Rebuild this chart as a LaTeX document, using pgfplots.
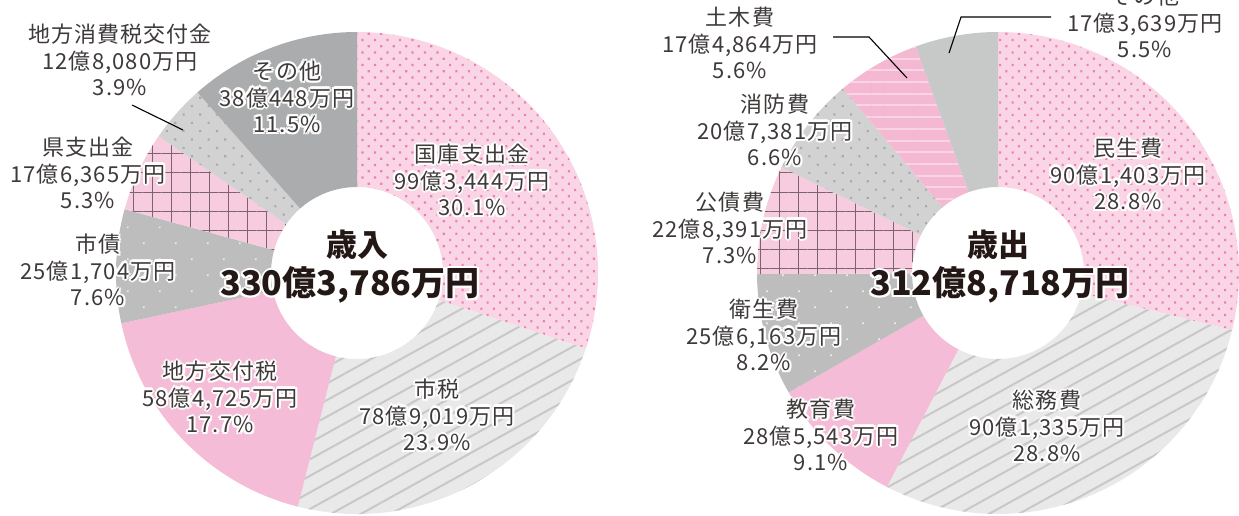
\documentclass[border=0pt]{standalone}
\usepackage{pgfplots}
\pgfplotsset{compat=1.18}
\usepackage{pgfplotstable}
\usetikzlibrary{patterns.meta}
\usepackage{fontspec}
\setmainfont{Noto Sans CJK JP}
\newfontfamily\lblfont[LetterSpace=5]{Noto Sans CJK JP}

\definecolor{pinkbg}{HTML}{F9D5E5}
\definecolor{pinkdot}{HTML}{EE7FB1}
\definecolor{linebg}{HTML}{E9E9E9}
\definecolor{linefg}{HTML}{C8C8C8}
\definecolor{solidpink}{HTML}{F4BCD6}
\definecolor{wdotbg}{HTML}{BDBDBD}
\definecolor{wdot}{HTML}{EBEBEB}
\definecolor{gridbg}{HTML}{F7CCDF}
\definecolor{gridfg}{HTML}{7B6470}
\definecolor{gdotbg}{HTML}{D2D2D2}
\definecolor{gdot}{HTML}{AAAAAA}
\definecolor{darkgray}{HTML}{ABACAE}
\definecolor{stripebg}{HTML}{F4B8D2}
\definecolor{stripefg}{HTML}{F9D5E4}
\definecolor{rightgray}{HTML}{C7C8C8}
\definecolor{txt}{HTML}{3E3A39}
\definecolor{ctxt}{HTML}{231815}

\tikzset{
 sA/.style={fill=pinkbg, postaction={pattern={Dots[radius=1.5pt,distance=8.84pt,angle=45]}, pattern color=pinkdot}},
 sB/.style={fill=linebg, postaction={pattern={Lines[angle=29,distance=14.5pt,line width=2pt]}, pattern color=linefg}},
 sC/.style={fill=solidpink},
 sD/.style={fill=wdotbg, postaction={pattern={Dots[radius=1.2pt,distance=22.6pt,angle=45]}, pattern color=wdot}},
 sE/.style={fill=gridbg, postaction={pattern={Hatch[angle=0,distance=19pt,line width=1pt]}, pattern color=gridfg}},
 sF/.style={fill=gdotbg, postaction={pattern={Dots[radius=1.5pt,distance=11.8pt,angle=45]}, pattern color=gdot}},
 sG/.style={fill=darkgray},
 sH/.style={fill=stripebg, postaction={pattern={Lines[angle=0,distance=11.7pt,line width=2pt]}, pattern color=stripefg}},
 sI/.style={fill=rightgray},
 lbl/.style={align=center, font=\lblfont\fontsize{22}{26.5}\selectfont, inner sep=0pt},
 ctr/.style={align=center, font=\bfseries\fontsize{31}{36}\selectfont, inner sep=0pt},
 ctrn/.style={align=center, font=\bfseries\fontsize{34}{38}\selectfont, inner sep=0pt},
}

% revenue (億円)
\pgfplotstableread{
v s
99.3444 sA
78.9019 sB
58.4725 sC
25.1704 sD
17.6365 sE
12.8080 sF
38.0448 sG
}\revenue
% expenditure (億円)
\pgfplotstableread{
v s
90.1403 sA
90.1335 sB
28.5543 sC
25.6163 sD
22.8391 sE
20.7381 sF
17.4864 sH
17.3639 sI
}\expend

\newcommand\donut[3]{%
 \pgfplotstablegetrowsof{#1}\pgfmathtruncatemacro\nr{\pgfplotsretval-1}%
 \def\tot{0}%
 \pgfplotsforeachungrouped \i in {0,...,\nr}{%
   \pgfplotstablegetelem{\i}{v}\of{#1}%
   \pgfmathsetmacro\tot{\tot+\pgfplotsretval}}%
 \def\cum{0}%
 \pgfplotsforeachungrouped \i in {0,...,\nr}{%
   \pgfplotstablegetelem{\i}{v}\of{#1}\let\val\pgfplotsretval
   \pgfplotstablegetelem{\i}{s}\of{#1}\let\sty\pgfplotsretval
   \pgfmathsetmacro\aA{90-360*(\cum/\tot)}%
   \pgfmathsetmacro\cum{\cum+\val}%
   \pgfmathsetmacro\aB{90-360*(\cum/\tot)}%
   \edef\temp{\noexpand\path[\sty] (axis cs:#2,#3) ++(\aA:241pt) arc[start angle=\aA,end angle=\aB,radius=241pt] -- ([shift={(\aB:86pt)}]axis cs:#2,#3) arc[start angle=\aB,end angle=\aA,radius=86pt] -- cycle;}%
   \temp}}

\newcommand\halo[5]{% x y style color text
 \node[#3,text=white,xshift=2.2pt] at (axis cs:#1,#2){#5};
 \node[#3,text=white,xshift=-2.2pt] at (axis cs:#1,#2){#5};
 \node[#3,text=white,yshift=2.2pt] at (axis cs:#1,#2){#5};
 \node[#3,text=white,yshift=-2.2pt] at (axis cs:#1,#2){#5};
 \node[#3,text=white,xshift=1.6pt,yshift=1.6pt] at (axis cs:#1,#2){#5};
 \node[#3,text=white,xshift=-1.6pt,yshift=1.6pt] at (axis cs:#1,#2){#5};
 \node[#3,text=white,xshift=1.6pt,yshift=-1.6pt] at (axis cs:#1,#2){#5};
 \node[#3,text=white,xshift=-1.6pt,yshift=-1.6pt] at (axis cs:#1,#2){#5};
 \node[#3,text=#4] at (axis cs:#1,#2){#5};}

\begin{document}
\begin{tikzpicture}
\begin{axis}[width=1239pt,height=515pt,scale only axis,
  xmin=0,xmax=1239,ymin=0,ymax=515,y dir=reverse,hide axis,clip=false]
\donut{\revenue}{357}{273}
\donut{\expend}{998}{273}
% leader lines
\draw[black,line width=1.1pt] (axis cs:132,105) -- (axis cs:183,130);
\draw[black,line width=1.1pt] (axis cs:833,37) -- (axis cs:869,37) -- (axis cs:907,78);
\draw[black,line width=1.1pt] (axis cs:1051,17) -- (axis cs:961,17) -- (axis cs:949,53);
% labels left
\halo{120}{60}{lbl}{txt}{地方消費税交付金\\12億8,080万円\\3.9\%}
\halo{287}{97}{lbl}{txt}{その他\\38億448万円\\11.5\%}
\halo{472}{180}{lbl}{txt}{国庫支出金\\99億3,444万円\\30.1\%}
\halo{88}{173}{lbl}{txt}{県支出金\\17億6,365万円\\5.3\%}
\halo{98}{270}{lbl}{txt}{市債\\25億1,704万円\\7.6\%}
\halo{220}{397}{lbl}{txt}{地方交付税\\58億4,725万円\\17.7\%}
\halo{437}{415}{lbl}{txt}{市税\\78億9,019万円\\23.9\%}
\halo{357}{245}{ctr}{ctxt}{歳入}
\halo{350}{285}{ctrn}{ctxt}{330億3,786万円}
% labels right
\halo{740}{43}{lbl}{txt}{土木費\\17億4,864万円\\5.6\%}
\halo{1145}{22}{lbl}{txt}{その他\\17億3,639万円\\5.5\%}
\halo{1128}{174}{lbl}{txt}{民生費\\90億1,403万円\\28.8\%}
\halo{775}{130}{lbl}{txt}{消防費\\20億7,381万円\\6.6\%}
\halo{730}{228}{lbl}{txt}{公債費\\22億8,391万円\\7.3\%}
\halo{764}{335}{lbl}{txt}{衛生費\\25億6,163万円\\8.2\%}
\halo{821}{435}{lbl}{txt}{教育費\\28億5,543万円\\9.1\%}
\halo{1047}{426}{lbl}{txt}{総務費\\90億1,335万円\\28.8\%}
\halo{998}{245}{ctr}{ctxt}{歳出}
\halo{1000}{285}{ctrn}{ctxt}{312億8,718万円}
\end{axis}
\pgfresetboundingbox
\useasboundingbox (current axis.south west) rectangle (current axis.north east);
\end{tikzpicture}
\end{document}
